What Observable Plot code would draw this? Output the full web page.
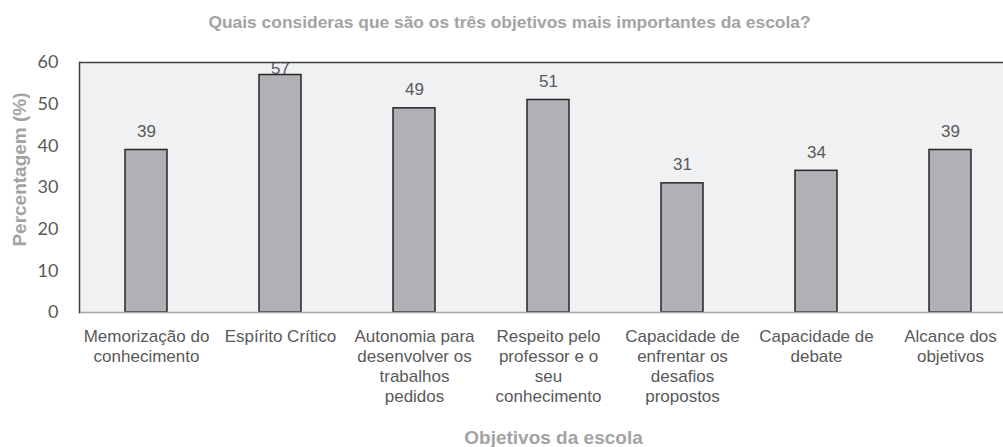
<!DOCTYPE html>
<html>
<head>
<meta charset="utf-8">
<script src="https://cdn.jsdelivr.net/npm/d3@7"></script>
<script src="https://cdn.jsdelivr.net/npm/@observablehq/plot@0.6"></script>
<style>
  html, body { margin: 0; padding: 0; background: #ffffff; }
  #chart svg { display: block; }
</style>
</head>
<body>
<div id="chart"></div>
<script>
const title = "Quais consideras que são os três objetivos mais importantes da escola?";
const xTitle = "Objetivos da escola";
const yTitle = "Percentagem (%)";
const categories = [
  "Memorização do conhecimento",
  "Espírito Crítico",
  "Autonomia para desenvolver os trabalhos pedidos",
  "Respeito pelo professor e o seu conhecimento",
  "Capacidade de enfrentar os desafios propostos",
  "Capacidade de debate",
  "Alcance dos objetivos"
];
const tickLabels = [
  "Memorização do\nconhecimento",
  "Espírito Crítico",
  "Autonomia para\ndesenvolver os\ntrabalhos\npedidos",
  "Respeito pelo\nprofessor e o\nseu\nconhecimento",
  "Capacidade de\nenfrentar os\ndesafios\npropostos",
  "Capacidade de\ndebate",
  "Alcance dos\nobjetivos"
];
const values = [39, 57, 49, 51, 31, 34, 39];
const yTicks = [0, 10, 20, 30, 40, 50, 60];

const data = categories.map((c, i) => ({cat: c, value: values[i]}));

const chart = Plot.plot({
  width: 1003,
  height: 447,
  marginTop: 62,
  marginBottom: 135,
  marginLeft: 79,
  marginRight: 0,
  style: {fontFamily: "'Liberation Sans', Arial, sans-serif", background: "#ffffff"},
  x: {
    domain: categories,
    range: [79, 1017],
    paddingInner: 0.687,
    paddingOuter: 0.3435
  },
  y: {domain: [0, 60], ticks: yTicks},
  marks: [
    Plot.frame({fill: "#f0f1f3", stroke: "none"}),
    Plot.barY(data, {x: "cat", y: "value", fill: "#b0b1b4", stroke: "#262626", strokeWidth: 1.5}),
    Plot.text(data, {
      x: "cat", y: d => Math.min(d.value, 54.2), text: d => String(d.value),
      dy: -13, lineAnchor: "bottom", fontSize: 17, fill: "#595959", clip: "frame"
    }),
    Plot.ruleY([0], {stroke: "#a6a6a6", strokeWidth: 1.5}),
    Plot.ruleY([60], {stroke: "#404040", strokeWidth: 1.5}),
    Plot.frame({anchor: "left", stroke: "#404040", strokeWidth: 1.5}),
    Plot.axisY({ticks: yTicks, tickSize: 0, tickPadding: 21, fontSize: 18, fontFamily: "Lato", fill: "#595959", label: null}),
    Plot.axisX({
      tickSize: 0, tickPadding: 15, fontSize: 17, lineHeight: 1.18, fill: "#595959", label: null,
      tickFormat: d => tickLabels[categories.indexOf(d)]
    }),
    Plot.text([title], {frameAnchor: "top", dx: -32, dy: -35, lineAnchor: "bottom", fontSize: 17.4, fontWeight: "bold", fill: "#a3a3a3"}),
    Plot.text([xTitle], {frameAnchor: "bottom", dx: 12, dy: 131, lineAnchor: "bottom", fontSize: 19, fontWeight: "bold", fill: "#a3a3a3"}),
    Plot.text([yTitle], {frameAnchor: "left", dx: -59.5, dy: -18, rotate: -90, lineAnchor: "middle", textAnchor: "middle", fontSize: 19, fontWeight: "bold", fill: "#a3a3a3"})
  ]
});
document.getElementById("chart").appendChild(chart);
</script>
</body>
</html>
